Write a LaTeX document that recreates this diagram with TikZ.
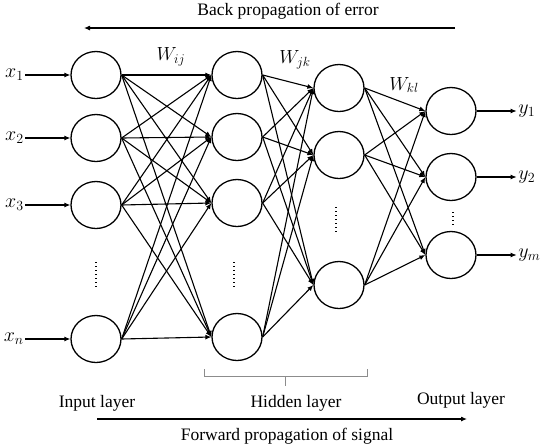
\RequirePackage{fix-cm}
\documentclass[tikz,border=0pt]{standalone}
\usepackage{fontspec}
\setmainfont{Liberation Serif}
\usetikzlibrary{arrows.meta,shapes.geometric}

\begin{document}
\begin{tikzpicture}[
  x=1pt, y=-1pt,
  font=\fontsize{17.5}{21}\selectfont,
  neuron/.style={draw, ellipse, line width=1.3pt, minimum width=50pt, minimum height=47pt, inner sep=0pt},
  lbl/.style={inner sep=1.5pt, font=\fontsize{20}{24}\selectfont},
  wlbl/.style={font=\fontsize{19}{23}\selectfont},
  ar/.style={-{Latex[length=6pt,width=5pt]}, line width=1.1pt},
  dots/.style={line width=1.3pt, dash pattern=on 1pt off 3pt},
  brk/.style={draw=black!45, line width=0.8pt}
]
\useasboundingbox (0,0) rectangle (550,445);

% layers
\foreach \n/\y in {1/75,2/138,3/205,4/339} \node[neuron] (in\n) at (96,\y) {};
\foreach \n/\y in {1/75,2/137,3/203,4/337} \node[neuron] (ha\n) at (237,\y) {};
\foreach \n/\y in {1/88,2/155,3/285} \node[neuron] (hb\n) at (339,\y) {};
\foreach \n/\y in {1/111,2/177,3/255} \node[neuron] (out\n) at (451,\y) {};

% inputs and outputs
\foreach \n/\s in {1/1,2/2,3/3,4/n} {
  \node[lbl, anchor=east] (x\n) at (in\n.west) [xshift=-45pt] {$x_{\s}$};
  \draw[ar] (x\n) -- (in\n);
}
\foreach \n/\s in {1/1,2/2,3/m} {
  \node[lbl, anchor=west] (y\n) at (out\n.east) [xshift=40pt] {$y_{\s}$};
  \draw[ar] (out\n) -- (y\n);
}

% weights
\foreach \i in {1,...,4} \foreach \j in {1,...,4} \draw[ar] (in\i.east) -- (ha\j.west);
\foreach \i in {1,...,4} \foreach \j in {1,...,3} \draw[ar] (ha\i.east) -- (hb\j.west);
\foreach \i in {1,...,3} \foreach \j in {1,...,3} \draw[ar] (hb\i.east) -- (out\j.west);

\node[wlbl] (wij) at (171,57) {$W_{ij}$};
\node[wlbl] (wjk) at (295,60) {$W_{jk}$};
\node[wlbl] (wkl) at (404,85) {$W_{kl}$};

% dots
\draw[dots] (96,262) -- (96,288);
\draw[dots] (234,262) -- (234,288);
\draw[dots] (336,207) -- (336,233);
\draw[dots] (453,212) -- (453,226);

% hidden bracket
\draw[brk] (204,369) -- (204,376) -- (367,376) -- (367,369);
\draw[brk] (285,376) -- (285,386);

% captions
\node (inl) at (97,403) {Input layer};
\node (hidl) at (296,403) {Hidden layer};
\node (outl) at (461,400) {Output layer};

\coordinate (bs) at (455,28);
\coordinate (be) at (84,28);
\draw[ar] (bs) -- (be);
\node (back) at (288,11) {Back propagation of error};

\coordinate (fs) at (97,419);
\coordinate (fe) at (467,419);
\draw[ar] (fs) -- (fe);
\node (fwd) at (287,436) {Forward propagation of signal};
\end{tikzpicture}
\end{document}
